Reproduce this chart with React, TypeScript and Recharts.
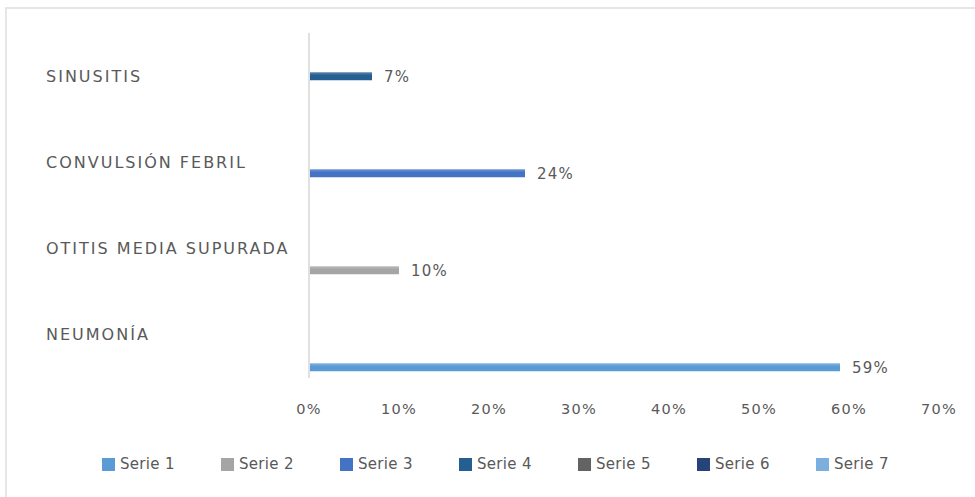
import { BarChart, Bar, XAxis, YAxis, LabelList } from 'recharts';

const categories = ['SINUSITIS', 'CONVULSIÓN FEBRIL', 'OTITIS MEDIA SUPURADA', 'NEUMONÍA'];
const serie1 = [null, null, null, 59];
const serie2 = [null, null, 10, null];
const serie3 = [null, 24, null, null];
const serie4 = [7, null, null, null];
const serie5 = [null, null, null, null];
const serie6 = [null, null, null, null];
const serie7 = [null, null, null, null];
const xTicks = [0, 10, 20, 30, 40, 50, 60, 70];

const seriesNames = ['Serie 1', 'Serie 2', 'Serie 3', 'Serie 4', 'Serie 5', 'Serie 6', 'Serie 7'];
const seriesValues = [serie1, serie2, serie3, serie4, serie5, serie6, serie7];
const COLORS = ['#5b9bd5', '#a5a5a5', '#4472c4', '#255e91', '#636363', '#264478', '#7cafdd'];

const data = categories.map((name, i) => {
  const row: Record<string, string | number | null> = { name };
  seriesValues.forEach((vals, s) => {
    row[`s${s + 1}`] = vals[i];
  });
  return row;
});

const FONT = '"DejaVu Sans", sans-serif';
const TEXT = '#595959';

const CategoryTick = (props: any) => (
  <text
    x={46}
    y={props.y}
    dy="0.35em"
    textAnchor="start"
    fill={TEXT}
    fontSize={16}
    fontFamily={FONT}
    letterSpacing={2}
  >
    {props.payload.value}
  </text>
);

const fmt = (v: any) => (v == null ? '' : `${v}%`);

// excel draws series 1 at the bottom of each group, so bars go in reverse
const order = [6, 5, 4, 3, 2, 1, 0];

export default function App() {
  return (
    <div style={{ position: 'absolute', left: 0, top: 0, width: 975, height: 497, background: '#fff', overflow: 'hidden' }}>
      <div
        style={{
          position: 'absolute',
          left: 5,
          top: 7,
          width: 980,
          height: 500,
          borderLeft: '2px solid #e6e6e6',
          borderTop: '2px solid #e6e6e6',
        }}
      />
      <div style={{ position: 'absolute', left: 0, top: 0 }}>
        <BarChart
          width={975}
          height={497}
          data={data}
          layout="vertical"
          margin={{ top: 33, right: 36, bottom: 89, left: 0 }}
          barSize={8}
          barGap={2.75}
        >
          <defs>
            {COLORS.map((c, i) => (
              <linearGradient key={i} id={`g${i}`} x1="0" y1="0" x2="0" y2="1">
                <stop offset="0%" stopColor={c} stopOpacity={0.75} />
                <stop offset="40%" stopColor={c} />
                <stop offset="100%" stopColor={c} />
              </linearGradient>
            ))}
          </defs>
          <XAxis
            type="number"
            domain={[0, 70]}
            ticks={xTicks}
            tickFormatter={(v) => `${v}%`}
            axisLine={false}
            tickLine={false}
            tickSize={0}
            tickMargin={26}
            height={30}
            tick={{ fill: TEXT, fontSize: 14.5, fontFamily: FONT, letterSpacing: 1.2 }}
            interval={0}
          />
          <YAxis
            type="category"
            dataKey="name"
            width={309}
            axisLine={{ stroke: '#e0e0e0', strokeWidth: 2 }}
            tickLine={false}
            tick={<CategoryTick />}
            interval={0}
          />
          {order.map((s) => (
            <Bar key={s} dataKey={`s${s + 1}`} name={seriesNames[s]} fill={`url(#g${s})`} isAnimationActive={false}>
              <LabelList
                dataKey={`s${s + 1}`}
                position="right"
                offset={12}
                formatter={fmt}
                fill={TEXT}
                fontSize={15}
                fontFamily={FONT}
                letterSpacing={1.2}
              />
            </Bar>
          ))}
        </BarChart>
      </div>
      <div style={{ position: 'absolute', left: 102, top: 455, display: 'flex', fontFamily: FONT, fontSize: 15, color: TEXT }}>
        {seriesNames.map((n, i) => (
          <div key={n} style={{ width: 119, display: 'flex', alignItems: 'center' }}>
            <span style={{ display: 'inline-block', width: 13, height: 13, background: COLORS[i], marginRight: 5 }} />
            <span style={{ letterSpacing: 0.3 }}>{n}</span>
          </div>
        ))}
      </div>
    </div>
  );
}
